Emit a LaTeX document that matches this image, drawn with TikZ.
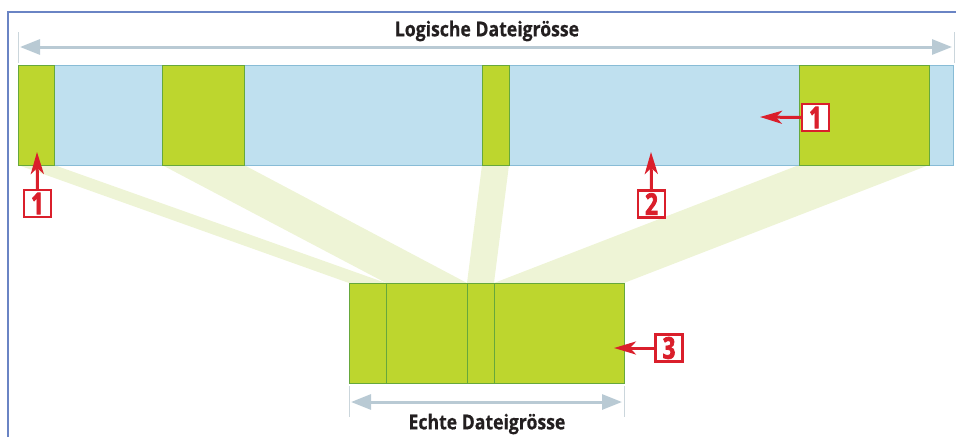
\documentclass[tikz,border=0pt]{standalone}
\usepackage{fontspec}
\setmainfont{Open Sans}
\newfontfamily\labfont[FakeStretch=0.86,FakeBold=0.6]{Open Sans}
\newfontfamily\numfont[FakeStretch=0.74,FakeBold=2.5]{Open Sans}
\usetikzlibrary{arrows.meta}
\definecolor{barblue}{HTML}{BFE0EF}
\definecolor{barline}{HTML}{88BCD6}
\definecolor{blockgreen}{HTML}{BDD62E}
\definecolor{blockline}{HTML}{66A83C}
\definecolor{bandgreen}{HTML}{EEF4D6}
\definecolor{sizegray}{HTML}{B9CAD4}
\definecolor{tickgray}{HTML}{CBD6DC}
\definecolor{calred}{HTML}{DA1F2B}
\definecolor{framecol}{HTML}{6A84C4}
\definecolor{textgray}{HTML}{231F20}

\begin{document}
\begin{tikzpicture}[x=1pt,y=-1pt,
    bar/.style={fill=barblue,draw=barline,line width=1pt},
    block/.style={fill=blockgreen,draw=blockline,line width=1pt},
    band/.style={fill=bandgreen},
    sizearrow/.style={draw=sizegray,line width=3pt,
      {Triangle[length=20pt,width=15pt]}-{Triangle[length=20pt,width=15pt]}},
    sizetick/.style={draw=tickgray,line width=1pt},
    sizelabel/.style={font=\labfont\fontsize{20.5}{22}\selectfont\bfseries,text=textgray,inner sep=0pt},
    callout/.style={draw=calred,line width=2.3pt,fill=white,text=calred,
      font=\numfont\fontsize{30}{30}\selectfont\bfseries,inner sep=0pt,
      minimum width=27pt,minimum height=27pt},
    calarrow/.style={draw=calred,line width=3pt,-{Stealth[length=22pt,width=13pt,inset=6pt]}}]
    \useasboundingbox (0,0) rectangle (956,437);
    % frame
    \draw[framecol,line width=1.5pt] (8,437) -- (8,12) -- (956,12);
    % bands from the logical blocks to the real blocks
    \foreach \a/\b/\c/\d in {18/54/349/386, 162/244/386/467, 482/509/467/494, 799/929/494/624}
        \fill[band] (\a,165) -- (\b,165) -- (\d,283) -- (\c,283) -- cycle;
    % logical file
    \draw[bar] (18,65) rectangle (953,165);
    \foreach \a/\b in {18/54, 162/244, 482/509, 799/929}
        \draw[block] (\a,65) rectangle (\b,165);
    % real file
    \draw[block] (349,283) rectangle (624,383);
    \foreach \x in {386,467,494}
        \draw[blockline,line width=1pt] (\x,283) -- (\x,383);
    % logical size
    \coordinate (0) at (18,32);
    \coordinate (1) at (18,63);
    \coordinate (2) at (954,32);
    \coordinate (3) at (954,63);
    \coordinate (4) at (20,47);
    \coordinate (5) at (952,47);
    \node[sizelabel] (6) at (487,31) {Logische Dateigrösse};
    \draw[sizetick] (0) to (1);
    \draw[sizetick] (2) to (3);
    \draw[sizearrow] (4) to (5);
    % real size
    \coordinate (7) at (349,386);
    \coordinate (8) at (349,417);
    \coordinate (9) at (624,386);
    \coordinate (10) at (624,417);
    \coordinate (11) at (351,402);
    \coordinate (12) at (622,402);
    \node[sizelabel] (13) at (487,424) {Echte Dateigrösse};
    \draw[sizetick] (7) to (8);
    \draw[sizetick] (9) to (10);
    \draw[sizearrow] (11) to (12);
    % callouts
    \node[callout] (14) at (37.5,203.5) {1};
    \coordinate (15) at (37,152);
    \node[callout] (16) at (815.5,117.5) {1};
    \coordinate (17) at (760,117);
    \node[callout] (18) at (651.5,204) {2};
    \coordinate (19) at (651,152);
    \node[callout] (20) at (669,348) {3};
    \coordinate (21) at (614,348);
    \draw[calarrow] (14.north) to (15);
    \draw[calarrow] (16.west) to (17);
    \draw[calarrow] (18.north) to (19);
    \draw[calarrow] (20.west) to (21);
\end{tikzpicture}
\end{document}
